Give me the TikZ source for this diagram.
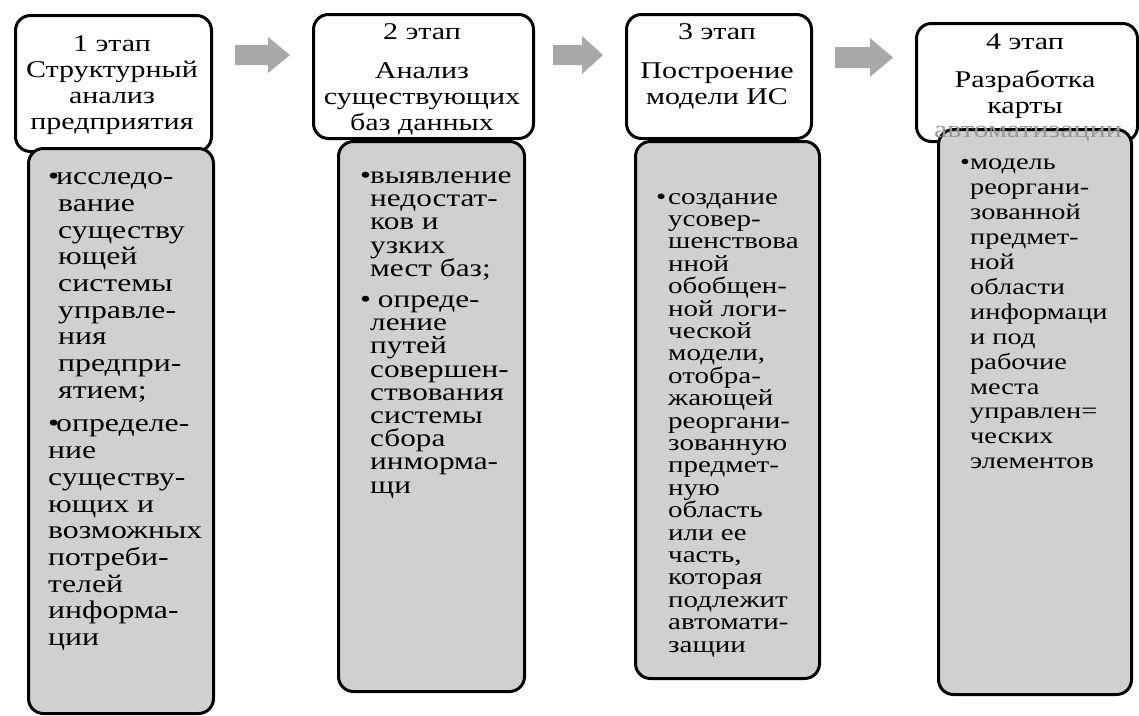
\documentclass[tikz,border=0pt]{standalone}
\usepackage{fontspec}
\setmainfont{Liberation Serif}[FakeStretch=1.25]
\definecolor{boxgray}{HTML}{D0D0D0}
\definecolor{arrowgray}{HTML}{A8A8A8}
\newcommand{\bul}{\makebox[10pt][l]{•}}
\newcommand{\ind}{\hspace*{10pt}}
\newcommand{\fs}[2]{\fontsize{#1}{#2}\selectfont\lineskiplimit=-100pt\relax}
\tikzset{
  topbox/.style={draw=black, line width=3pt, rounded corners=15pt, fill=white, inner sep=0pt, anchor=north west},
  graybox/.style={draw=black, line width=3pt, rounded corners=15pt, fill=boxgray, inner sep=0pt, anchor=north west},
  blockarrow/.style={fill=arrowgray},
  ttext/.style={align=center, inner sep=0pt, anchor=north},
  gtext/.style={align=left, inner sep=0pt, anchor=north west},
}
\begin{document}
\begin{tikzpicture}[x=1pt,y=-1pt]
\useasboundingbox (0,0) rectangle (1139,715);
% top boxes
\node[topbox, minimum width=196pt, minimum height=136pt] (b1) at (14,14) {};
\node[topbox, minimum width=220pt, minimum height=124pt] (b2) at (312,13) {};
\node[topbox, minimum width=185pt, minimum height=124pt] (b3) at (625,13) {};
\node[topbox, minimum width=221pt, minimum height=118pt] (b4) at (915,22) {};
% top texts
\node[ttext, font=\fs{24}{26}] (b1t) at (112,35.5) {1 этап\\Структурный\\анализ\\предприятия};
\node[ttext, font=\fs{24}{26}] (b2t) at (422,23.5) {2 этап\\[13pt]Анализ\\существующих\\баз данных};
\node[ttext, font=\fs{24}{26}] (b3t) at (717,23.5) {3 этап\\[13pt]Построение\\модели ИС};
\node[ttext, font=\fs{24}{26}] (b4t) at (1025,33.5) {4 этап\\[12pt]Разработка\\карты};
% gray boxes
\node[graybox, minimum width=185pt, minimum height=565pt] (g1) at (27,147) {};
\node[graybox, minimum width=186pt, minimum height=550pt] (g2) at (337,140) {};
\node[graybox, minimum width=184pt, minimum height=537pt] (g3) at (634,140) {};
\node[graybox, minimum width=193pt, minimum height=565pt] (g4) at (937,128) {};
\node[inner sep=0pt, text=black!40, font=\fs{24}{26}] (b4x) at (1028,134) {автоматизации};
% gray texts
\node[gtext, font=\fs{25.4}{26.7}] (g1t) at (48,172.5) {\makebox[8pt][l]{•}исследо-\\\ind вание\\\ind существу\\\ind ющей\\\ind системы\\\ind управле-\\\ind ния\\\ind предпри-\\\ind ятием;\\[7pt]\makebox[8pt][l]{•}определе-\\ние\\существу-\\ющих и\\возможных\\потреби-\\телей\\информа-\\ции};
\node[gtext, font=\fs{25}{23.2}] (g2t) at (360,171.5) {\bul выявление\\\ind недостат-\\\ind ков и\\\ind узких\\\ind мест баз;\\[8pt]\bul\ опреде-\\\ind ление\\\ind путей\\\ind совершен-\\\ind ствования\\\ind системы\\\ind сбора\\\ind инморма-\\\ind щи};
\node[gtext, font=\fs{23.2}{22.4}] (g3t) at (656,193) {\makebox[12pt][l]{•}создание\\\hspace*{12pt}усовер-\\\hspace*{12pt}шенствова\\\hspace*{12pt}нной\\\hspace*{12pt}обобщен-\\\hspace*{12pt}ной логи-\\\hspace*{12pt}ческой\\\hspace*{12pt}модели,\\\hspace*{12pt}отобра-\\\hspace*{12pt}жающей\\\hspace*{12pt}реоргани-\\\hspace*{12pt}зованную\\\hspace*{12pt}предмет-\\\hspace*{12pt}ную\\\hspace*{12pt}область\\\hspace*{12pt}или ее\\\hspace*{12pt}часть,\\\hspace*{12pt}которая\\\hspace*{12pt}подлежит\\\hspace*{12pt}автомати-\\\hspace*{12pt}защии};
\node[gtext, font=\fs{22.7}{24.9}] (g4t) at (960,159) {\bul модель\\\ind реоргани-\\\ind зованной\\\ind предмет-\\\ind ной\\\ind области\\\ind информаци\\\ind и под\\\ind рабочие\\\ind места\\\ind управлен=\\\ind ческих\\\ind элементов};
% block arrows
\fill[blockarrow] (235,45) -- (268,45) -- (268,37) -- (290,55) -- (268,73) -- (268,65) -- (235,65) -- cycle;
\fill[blockarrow] (553,45) -- (582,45) -- (582,36) -- (603,55) -- (582,74) -- (582,65) -- (553,65) -- cycle;
\fill[blockarrow] (835,47) -- (870,47) -- (870,38) -- (893,57.5) -- (870,77) -- (870,68) -- (835,68) -- cycle;
\end{tikzpicture}
\end{document}
